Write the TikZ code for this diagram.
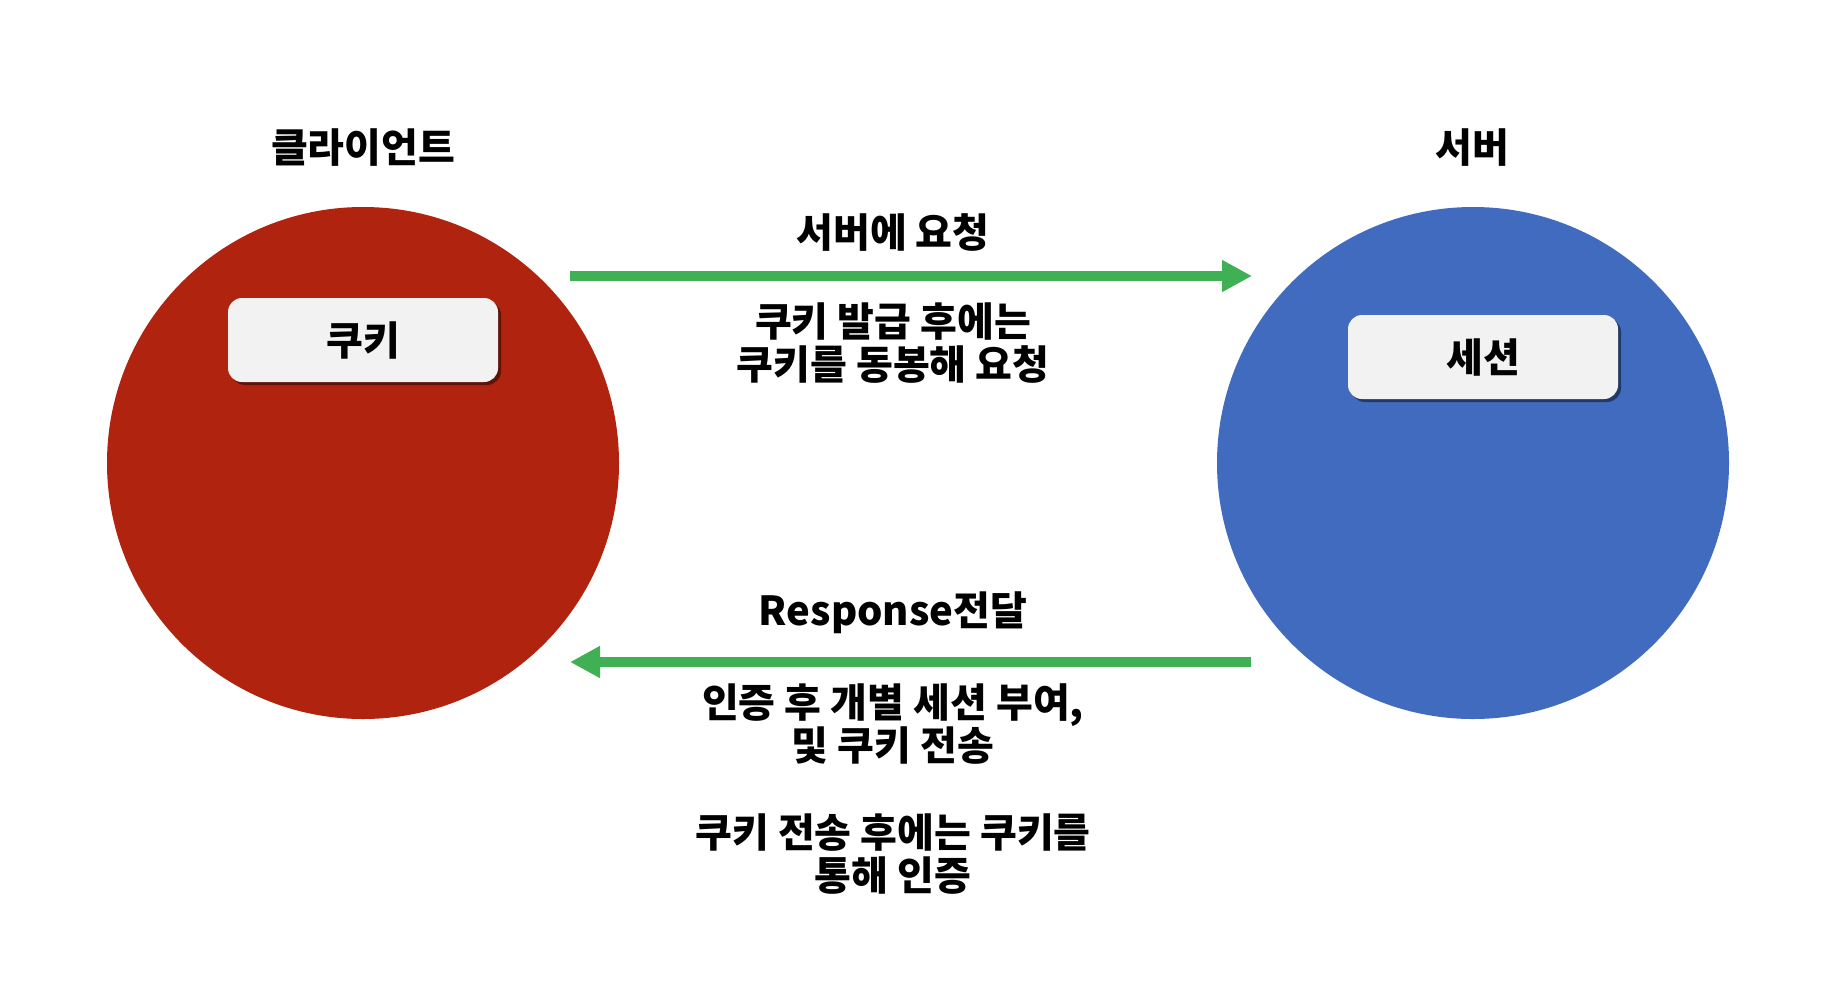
\documentclass[tikz,border=0pt]{standalone}
\usepackage{fontspec}
\setmainfont{Noto Sans CJK KR}
\usetikzlibrary{shadows,arrows.meta}
\definecolor{clientred}{RGB}{176,35,14}
\definecolor{serverblue}{RGB}{65,107,191}
\definecolor{flowgreen}{RGB}{63,176,84}
\definecolor{boxgray}{RGB}{242,242,242}
\tikzset{
  bubble/.style={circle, inner sep=0pt, minimum size=256pt},
  keybox/.style={rectangle, rounded corners=7pt, fill=boxgray, minimum width=135pt, minimum height=42pt,
    drop shadow={shadow xshift=1.5pt, shadow yshift=-1.5pt, opacity=0.45, fill=black}},
  label/.style={align=center, inner sep=0pt},
  flow/.style={draw=flowgreen, line width=5pt, -{Triangle[length=15pt,width=15pt]}}
}
\begin{document}
\begin{tikzpicture}[x=0.5pt,y=-0.5pt, font=\bfseries\fontsize{20}{21.5}\selectfont]
\useasboundingbox (0,0) rectangle (1825,980);
\node[bubble, fill=clientred] (client) at (363,463) {};
\node[bubble, fill=serverblue] (server) at (1473,463) {};
\node[label] (ctitle) at (363,148) {클라이언트};
\node[label] (stitle) at (1472,148) {서버};
\node[keybox] (cookie) at (363,340) {쿠키};
\node[keybox] (session) at (1483,357) {세션};
\coordinate (reqstart) at (570,276);
\coordinate (reqend) at (1252,276);
\coordinate (resstart) at (1251,662);
\coordinate (resend) at (570,662);
\draw[flow] (reqstart) -- (reqend);
\draw[flow] (resstart) -- (resend);
\node[label] (reqlabel) at (893,233) {서버에 요청};
\node[label] (reqnote) at (893,343) {쿠키 발급 후에는\\쿠키를 동봉해 요청};
\node[label] (reslabel) at (893,613) {Response전달};
\node[label] (resnote) at (893,724) {인증 후 개별 세션 부여,\\및 쿠키 전송};
\node[label] (authnote) at (893,854) {쿠키 전송 후에는 쿠키를\\통해 인증};
\end{tikzpicture}
\end{document}
